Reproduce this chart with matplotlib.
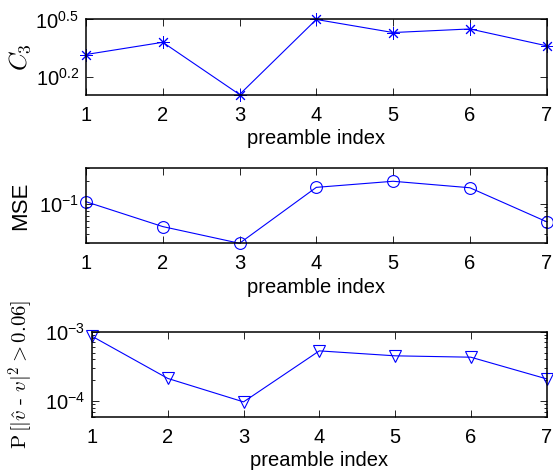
import numpy as np
import matplotlib.pyplot as plt
from matplotlib.ticker import FixedLocator, LogLocator, NullFormatter, NullLocator

plt.rcParams['font.family'] = ['Liberation Sans', 'DejaVu Sans']
plt.rcParams['mathtext.fontset'] = 'cm'

# данные
idx = [1, 2, 3, 4, 5, 6, 7]
c3 = [2.07, 2.40, 1.276, 3.1623, 2.70, 2.82, 2.30]
mse = [0.107, 0.050, 0.030, 0.166, 0.200, 0.164, 0.058]
prob = [8.6e-4, 2.13e-4, 9.8e-5, 5.3e-4, 4.5e-4, 4.3e-4, 2.1e-4]

fig = plt.figure(figsize=(5.53, 4.75), dpi=100)
ax1 = fig.add_axes([0.1555, 0.801, 0.833, 0.158])
ax2 = fig.add_axes([0.1555, 0.4878, 0.833, 0.1585])
ax3 = fig.add_axes([0.1664, 0.1227, 0.822, 0.179])

blue = (0, 0, 1)
ax1.plot(idx, c3, color=blue, lw=0.8, marker=(8, 2, 0), ms=9, mew=0.7, clip_on=False)
ax2.plot(idx, mse, color=blue, lw=0.8, marker='o', ms=8.5, mfc='none', mew=0.8, clip_on=False)
ax3.plot(idx, prob, color=blue, lw=0.8, marker='v', ms=9, mfc='none', mew=0.8, clip_on=False)

for ax in (ax1, ax2, ax3):
    ax.set_yscale('log')
    ax.set_xlim(1, 7)
    ax.set_xticks(idx)
    ax.set_xlabel('preamble index', fontsize=14.5, labelpad=3)
    ax.tick_params(which='both', direction='in', top=True, right=True, labelsize=14.5, pad=8)
    ax.tick_params(which='major', length=5, width=0.6)
    ax.tick_params(which='minor', length=2.5, width=0.6)
    for s in ax.spines.values():
        s.set_linewidth(1.1)

# C3
ax1.set_ylim(min(c3), 10 ** 0.5)
ax1.yaxis.set_major_locator(FixedLocator([10 ** 0.2, 10 ** 0.5]))
ax1.yaxis.set_minor_locator(NullLocator())
ax1.set_yticklabels([r'$\mathregular{10^{0.2}}$', r'$\mathregular{10^{0.5}}$'])
ax1.tick_params(axis='y', pad=5)
ax1.set_ylabel(r'$C_3$', fontsize=18, labelpad=2)

# MSE
ax2.set_ylim(0.03, 0.3)
ax2.yaxis.set_major_locator(FixedLocator([0.1]))
ax2.yaxis.set_minor_locator(LogLocator(base=10, subs=np.arange(2, 10)))
ax2.yaxis.set_minor_formatter(NullFormatter())
ax2.set_yticklabels([r'$\mathregular{10^{-1}}$'])
ax2.tick_params(axis='y', pad=5)
ax2.set_ylabel('MSE', fontsize=16, labelpad=6)

# вероятность
ax3.set_ylim(6e-5, 1e-3)
ax3.yaxis.set_major_locator(FixedLocator([1e-4, 1e-3]))
ax3.yaxis.set_minor_locator(LogLocator(base=10, subs=np.arange(2, 10)))
ax3.yaxis.set_minor_formatter(NullFormatter())
ax3.set_yticklabels([r'$\mathregular{10^{-4}}$', r'$\mathregular{10^{-3}}$'])
ax3.tick_params(axis='y', pad=5)
ax3.set_ylabel(r'$\mathrm{P}\,[|\hat{v}\ \text{-}\ v|^2 > 0.06]$', fontsize=15, labelpad=6)

fig.savefig('out.png', dpi=100)
